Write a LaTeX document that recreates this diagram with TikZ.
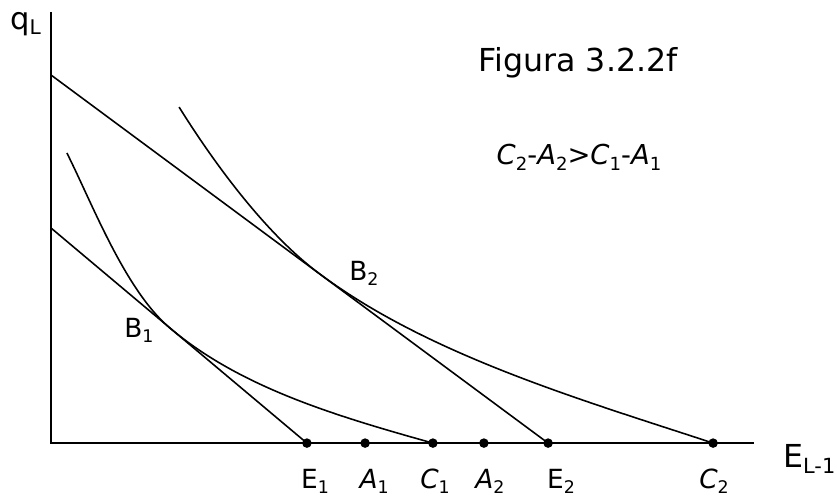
\documentclass[tikz,border=0pt]{standalone}
\usepackage{fontspec}
\setmainfont{DejaVu Sans}
\usetikzlibrary{positioning}
\tikzset{
  axis/.style={line width=1.8pt},
  bline/.style={line width=1.5pt},
  icurve/.style={line width=1.5pt},
  dot/.style={circle,fill=black,inner sep=3.2pt},
  albl/.style={font=\fontsize{25}{29}\selectfont,inner sep=0pt,anchor=base},
  ttl/.style={font=\fontsize{30}{34}\selectfont,inner sep=0pt,anchor=base},
}
\newcommand{\sbs}[1]{\raisebox{-0.35ex}{\scalebox{0.66}{#1}}}

\begin{document}
\begin{tikzpicture}
  \useasboundingbox (-1.7,-1.77) rectangle (26.2,14.77);
  % axes
  \coordinate (O) at (0,0);
  \coordinate (ytop) at (0,14.37);
  \coordinate (xend) at (23.43,0);
  \draw[axis] (ytop) -- (O) -- (xend);
  \node[albl,font=\fontsize{29}{33}\selectfont] (qL) at (-0.85,13.8){q\sbs{L}};
  \node[ttl,anchor=base west] (EL) at (24.4,-0.8){E\sbs{L-1}};
  % points on the horizontal axis
  \foreach \n/\x/\lx/\t in {e1/8.53/8.8/{E\sbs{1}},
                            a1/10.47/10.77/{\textit{A}\sbs{1}},
                            c1/12.73/12.8/{\textit{C}\sbs{1}},
                            a2/14.43/14.63/{\textit{A}\sbs{2}},
                            e2/16.57/17.0/{E\sbs{2}},
                            c2/22.07/22.1/{\textit{C}\sbs{2}}}{
     \node[dot] (\n) at (\x,0){};
     \node[albl] (\n-l) at (\lx,-1.5){\t};
  }
  % budget lines
  \coordinate (l1) at (0,7.17);
  \coordinate (l2) at (0,12.27);
  \draw[bline] (l1) -- (e1.center);
  \draw[bline] (l2) -- (e2.center);
  % indifference curves
  \coordinate (i1) at (0.53,9.67);
  \coordinate (b1) at (3.97,3.83);
  \draw[icurve] (i1) .. controls (1.37,8.0) and (2.47,5.09) .. (b1)
                     .. controls (6.30,1.87) and (9.40,0.93) .. (c1.center);
  \coordinate (i2) at (4.27,11.2);
  \coordinate (b2) at (8.97,5.63);
  \draw[icurve] (i2) .. controls (5.6,9.07) and (7.30,6.86) .. (b2)
                     .. controls (12.63,2.91) and (17.73,1.43) .. (c2.center);
  \node[albl,anchor=center] (b1-l) at (2.93,3.77){B\sbs{1}};
  \node[albl,anchor=center] (b2-l) at (10.43,5.67){B\sbs{2}};
  % title and condition
  \node[ttl] (fig) at (17.57,12.37){Figura 3.2.2f};
  \node[albl,font=\fontsize{26}{30}\selectfont] (cond) at (17.6,9.27)
       {\textit{C}\sbs{2}-\textit{A}\sbs{2}>\textit{C}\sbs{1}-\textit{A}\sbs{1}};
\end{tikzpicture}
\end{document}
